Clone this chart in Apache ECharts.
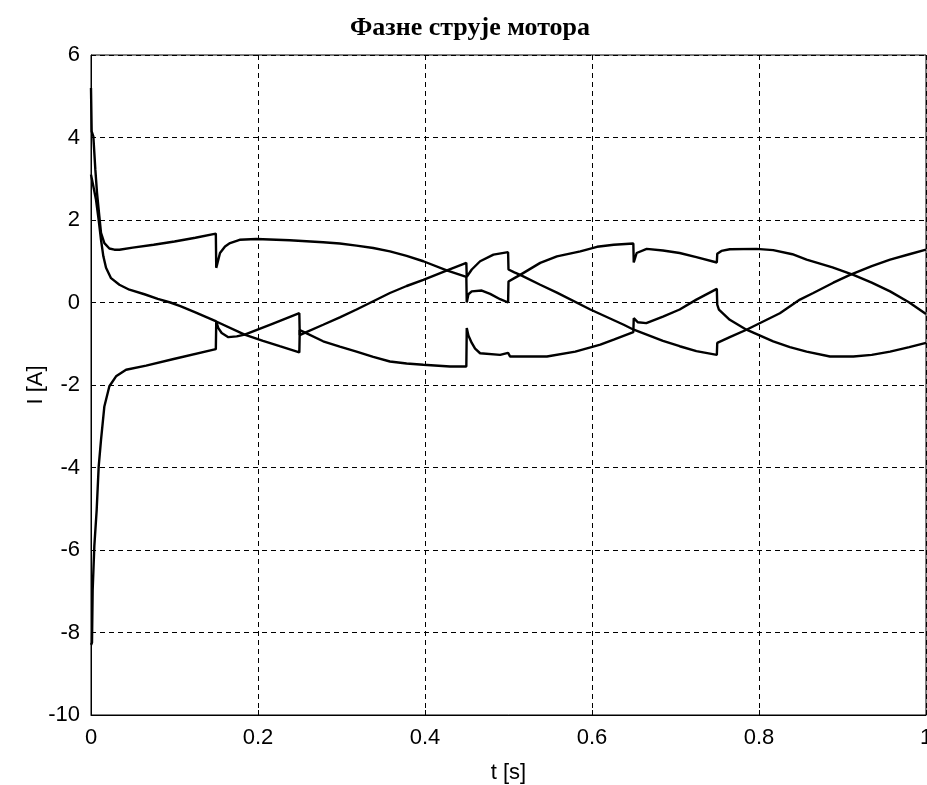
<!DOCTYPE html>
<html>
<head>
<meta charset="utf-8">
<title>Фазне струје мотора</title>
<script src="https://cdn.jsdelivr.net/npm/echarts@6/dist/echarts.min.js"></script>
<style>
    html, body { margin: 0; padding: 0; background: #fff; overflow: hidden; }
    #phase_currents { width: 927px; height: 785px; }
</style>
</head>
<body>
<div id="phase_currents"></div>
<script>

// Chart data
// ------------------------------

var xTicks = [0, 0.2, 0.4, 0.6, 0.8, 1];
var yTicks = [-10, -8, -6, -4, -2, 0, 2, 4, 6];

// Phase 1 - starts high, upper branch early on
var phaseAT = [0, 0.0008, 0.0028, 0.0052, 0.0072, 0.010, 0.012, 0.016, 0.022, 0.028, 0.034, 0.05, 0.075, 0.1, 0.125, 0.1495,
    0.15, 0.1515, 0.1545, 0.1605, 0.1665, 0.178, 0.198, 0.238, 0.278, 0.298, 0.318, 0.338, 0.358, 0.378, 0.398, 0.426, 0.4495,
    0.45, 0.452, 0.456, 0.468, 0.478, 0.49, 0.4995,
    0.5, 0.507, 0.514, 0.538, 0.558, 0.586, 0.606, 0.626, 0.6495,
    0.65, 0.6535, 0.6655, 0.685, 0.705, 0.725, 0.7495,
    0.75, 0.755, 0.765, 0.797, 0.817, 0.84, 0.857, 0.888, 0.913, 0.935, 0.957, 0.98, 1.0];
var phaseAI = [5.2, 4.15, 4.03, 3.22, 2.66, 2.09, 1.69, 1.44, 1.31, 1.28, 1.28, 1.33, 1.4, 1.48, 1.57, 1.67,
    0.84, 0.96, 1.2, 1.36, 1.44, 1.52, 1.54, 1.51, 1.46, 1.43, 1.38, 1.32, 1.24, 1.13, 1.0, 0.78, 0.62,
    0.0, 0.2, 0.27, 0.29, 0.21, 0.08, 0.0,
    0.51, 0.59, 0.67, 0.96, 1.12, 1.24, 1.35, 1.4, 1.43,
    0.97, 1.2, 1.3, 1.26, 1.2, 1.1, 0.97,
    1.18, 1.25, 1.29, 1.3, 1.27, 1.17, 1.04, 0.85, 0.67, 0.48, 0.27, 0.0, -0.28];

// Phase 2 - starts negative
var phaseBT = [0, 0.0012, 0.002, 0.004, 0.0068, 0.0092, 0.012, 0.016, 0.022, 0.030, 0.042, 0.066, 0.099, 0.1495,
    0.15, 0.1525, 0.1565, 0.1645, 0.1745, 0.184, 0.218, 0.2495,
    0.25, 0.2565, 0.278, 0.298, 0.318, 0.338, 0.358, 0.378, 0.398, 0.428, 0.4495,
    0.45, 0.456, 0.466, 0.482, 0.4995,
    0.5, 0.507, 0.514, 0.538, 0.558, 0.598, 0.638, 0.65, 0.685, 0.705, 0.725, 0.7495,
    0.75, 0.765, 0.785, 0.825, 0.849, 0.865, 0.889, 0.909, 0.935, 0.957, 0.98, 1.0];
var phaseBI = [-8.3, -8.25, -6.97, -5.9, -5.03, -3.98, -3.33, -2.52, -2.03, -1.79, -1.63, -1.53, -1.37, -1.13,
    -0.46, -0.62, -0.74, -0.84, -0.82, -0.78, -0.51, -0.26,
    -0.79, -0.73, -0.54, -0.36, -0.17, 0.03, 0.23, 0.4, 0.55, 0.79, 0.96,
    0.62, 0.8, 1.0, 1.16, 1.22,
    0.8, 0.73, 0.67, 0.43, 0.24, -0.17, -0.54, -0.66, -0.93, -1.06, -1.18, -1.27,
    -0.98, -0.84, -0.66, -0.26, 0.07, 0.23, 0.48, 0.67, 0.88, 1.04, 1.17, 1.28];

// Phase 3 - starts mid, falls through zero
var phaseCT = [0, 0.0028, 0.006, 0.0092, 0.012, 0.0148, 0.018, 0.024, 0.034, 0.046, 0.064, 0.08, 0.095, 0.107, 0.125, 0.15,
    0.184, 0.206, 0.226, 0.2495,
    0.25, 0.2565, 0.278, 0.298, 0.318, 0.338, 0.358, 0.378, 0.398, 0.43, 0.4495,
    0.45, 0.452, 0.456, 0.46, 0.466, 0.49, 0.4995,
    0.502, 0.546, 0.58, 0.61, 0.626, 0.6495,
    0.65, 0.655, 0.665, 0.685, 0.705, 0.725, 0.7495,
    0.75, 0.752, 0.765, 0.785, 0.817, 0.837, 0.857, 0.885, 0.913, 0.935, 0.957, 0.98, 1.0];
var phaseCI = [3.1, 2.82, 2.49, 2.0, 1.52, 1.12, 0.84, 0.59, 0.43, 0.31, 0.2, 0.09, 0.0, -0.09, -0.24, -0.46,
    -0.78, -0.93, -1.06, -1.21,
    -0.67, -0.73, -0.94, -1.07, -1.19, -1.32, -1.43, -1.48, -1.51, -1.55, -1.55,
    -0.62, -0.8, -0.98, -1.12, -1.23, -1.27, -1.22,
    -1.31, -1.31, -1.19, -1.02, -0.9, -0.72,
    -0.38, -0.48, -0.5, -0.34, -0.17, 0.07, 0.33,
    -0.05, -0.17, -0.42, -0.66, -0.94, -1.08, -1.19, -1.31, -1.31, -1.27, -1.19, -1.08, -0.98];


// Setup module
// ------------------------------

var PhaseCurrents = function() {

    // Pair time and current arrays
    var _pairs = function(t, i) {
        var out = [];
        for (var k = 0; k < t.length; k++) {
            out.push([t[k], i[k]]);
        }
        return out;
    };

    var _phaseCurrentsChart = function() {
        if (typeof echarts == 'undefined') {
            console.warn('Warning - echarts.min.js is not loaded.');
            return;
        }

        var element = document.getElementById('phase_currents');
        if (!element) return;

        var chart = echarts.init(element, null, { renderer: 'canvas' });

        var labelFont = "'Liberation Sans Narrow', 'Liberation Sans', Arial, sans-serif";

        var lineSeries = function(name, t, i) {
            return {
                name: name,
                type: 'line',
                data: _pairs(t, i),
                showSymbol: false,
                symbol: 'none',
                smooth: false,
                lineStyle: {
                    color: '#000',
                    width: 2.4
                }
            };
        };

        chart.setOption({
            backgroundColor: '#fff',
            animation: false,

            title: {
                text: 'Фазне струје мотора',
                left: 465,
                textAlign: 'center',
                top: 10,
                textStyle: {
                    fontFamily: "'Liberation Serif', 'Times New Roman', serif",
                    fontWeight: 'bold',
                    fontSize: 26,
                    color: '#000'
                }
            },

            // Plot box
            grid: {
                left: 91,
                top: 55,
                width: 835,
                height: 660,
                show: true,
                borderColor: '#000',
                borderWidth: 1,
                containLabel: false,
                outerBoundsMode: 'none'
            },

            // Horizontal axis
            xAxis: {
                type: 'value',
                min: xTicks[0],
                max: xTicks[xTicks.length - 1],
                interval: 0.2,
                name: 't [s]',
                nameLocation: 'middle',
                nameGap: 47,
                nameMoveOverlap: false,
                nameTextStyle: {
                    fontFamily: labelFont,
                    fontSize: 22,
                    color: '#000'
                },
                axisLine: { onZero: false, lineStyle: { color: '#000', width: 1 } },
                axisTick: { show: true, inside: true, length: 5, lineStyle: { color: '#000' } },
                axisLabel: {
                    fontFamily: labelFont,
                    fontSize: 22,
                    color: '#000',
                    margin: 12,
                    formatter: function(v) { return String(+v.toFixed(1)); }
                },
                splitLine: {
                    show: true,
                    lineStyle: { color: '#000', type: [5, 4], width: 1 }
                }
            },

            // Vertical axis
            yAxis: {
                type: 'value',
                min: yTicks[0],
                max: yTicks[yTicks.length - 1],
                interval: 2,
                name: 'I [A]',
                nameLocation: 'middle',
                nameGap: 44,
                nameMoveOverlap: false,
                nameTextStyle: {
                    fontFamily: labelFont,
                    fontSize: 22,
                    color: '#000'
                },
                axisLine: { show: true, onZero: false, lineStyle: { color: '#000', width: 1 } },
                axisTick: { show: true, inside: true, length: 5, lineStyle: { color: '#000' } },
                axisLabel: {
                    fontFamily: labelFont,
                    fontSize: 22,
                    color: '#000',
                    margin: 11
                },
                splitLine: {
                    show: true,
                    lineStyle: { color: '#000', type: [5, 4], width: 1 }
                }
            },

            series: [
                lineSeries('Фаза 1', phaseAT, phaseAI),
                lineSeries('Фаза 2', phaseBT, phaseBI),
                lineSeries('Фаза 3', phaseCT, phaseCI)
            ]
        });

        window.addEventListener('resize', function() {
            chart.resize();
        });
    };

    return {
        init: function() {
            _phaseCurrentsChart();
        }
    };
}();


// Initialize module
// ------------------------------

document.addEventListener('DOMContentLoaded', function() {
    PhaseCurrents.init();
});
</script>
</body>
</html>
